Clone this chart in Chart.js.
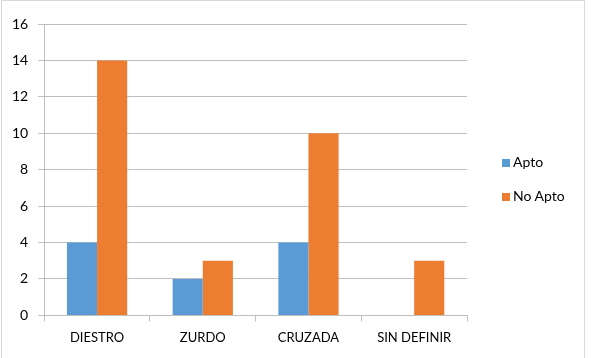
<!DOCTYPE html>
<html>
<head>
<meta charset="utf-8">
<script src="https://cdn.jsdelivr.net/npm/chart.js@4"></script>
<style>
  html, body { margin: 0; padding: 0; background: #fff; }
  #frame { position: absolute; left: 1px; top: 0; width: 584px; height: 370px;
           border: 1px solid #d9d9d9; box-sizing: border-box; }
  #wrap { position: absolute; left: 0; top: 0; width: 595px; height: 358px; }
  .legend { position: absolute; left: 502px; font-family: Lato, sans-serif; font-size: 14px;
            color: #000; line-height: 16px; white-space: nowrap; }
  .legend span { display: inline-block; width: 8px; height: 8px; margin-right: 3px; }
</style>
</head>
<body>
<div id="frame"></div>
<div id="wrap"><canvas id="chart" width="595" height="358"></canvas></div>
<div id="legend"></div>
<script>
const categories = ['DIESTRO', 'ZURDO', 'CRUZADA', 'SIN DEFINIR'];
const seriesNames = ['Apto', 'No Apto'];
const apto = [4, 2, 4, 0];
const noApto = [14, 3, 10, 3];
const yTicks = [0, 2, 4, 6, 8, 10, 12, 14, 16];
const colors = ['#5b9bd5', '#ed7d31'];

// legend as html, next to the plot
const legendTops = [154, 188];
document.getElementById('legend').innerHTML = seriesNames.map((name, i) =>
  `<div class="legend" style="top:${legendTops[i]}px"><span style="background:${colors[i]}"></span>${name}</div>`
).join('');

const ctx = document.getElementById('chart').getContext('2d');
new Chart(ctx, {
  type: 'bar',
  data: {
    labels: categories,
    datasets: [
      { label: seriesNames[0], data: apto, backgroundColor: colors[0] },
      { label: seriesNames[1], data: noApto, backgroundColor: colors[1] }
    ]
  },
  options: {
    responsive: false,
    animation: false,
    datasets: { bar: { categoryPercentage: 0.57, barPercentage: 1.0 } },
    layout: { padding: { left: 2, top: 24, right: 128, bottom: 3 } },
    plugins: {
      tooltip: { enabled: false },
      legend: { display: false }
    },
    scales: {
      x: {
        grid: { offset: true, drawOnChartArea: false, drawTicks: true, tickLength: 6, color: '#bfbfbf' },
        border: { color: '#bfbfbf' },
        ticks: { font: { family: 'Lato', size: 13 }, color: '#000', padding: 9 }
      },
      y: {
        min: 0,
        max: 16,
        afterBuildTicks: axis => { axis.ticks = yTicks.map(v => ({ value: v })); },
        grid: { color: '#bfbfbf', tickLength: 6 },
        border: { color: '#bfbfbf' },
        ticks: { font: { family: 'Lato', size: 14 }, color: '#000', padding: 10 }
      }
    }
  }
});
</script>
</body>
</html>
